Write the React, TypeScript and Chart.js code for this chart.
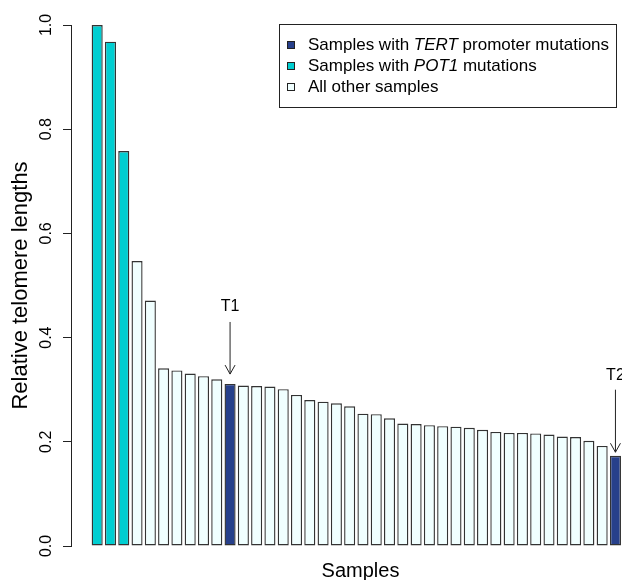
import React, { useEffect, useRef } from 'react';
import { Chart, registerables } from 'chart.js';

Chart.register(...registerables);

// ---- data ----
const values: number[] = [
  1.0, 0.968, 0.758, 0.547, 0.471, 0.341, 0.337, 0.331, 0.326, 0.32,
  0.311, 0.308, 0.307, 0.306, 0.301, 0.29, 0.28, 0.277, 0.274, 0.268,
  0.254, 0.253, 0.245, 0.235, 0.234, 0.232, 0.23, 0.229, 0.227, 0.223,
  0.219, 0.217, 0.217, 0.216, 0.214, 0.21, 0.209, 0.202, 0.192, 0.173,
];
const tertSamples: number[] = [10, 39];
const pot1Samples: number[] = [0, 1, 2];

const annotLabels: string[] = ['T1', 'T2'];
const annotSamples: number[] = [10, 39];
const annotArrowFrom: number[] = [0.43, 0.3];
const annotArrowTo: number[] = [0.33, 0.18];
const annotTextAt: number[] = [0.46, 0.328];

const yTicks: number[] = [0, 0.2, 0.4, 0.6, 0.8, 1.0];

const legendItems = [
  { parts: [['Samples with ', false], ['TERT', true], [' promoter mutations', false]], color: '#27408B' },
  { parts: [['Samples with ', false], ['POT1', true], [' mutations', false]], color: '#00CED1' },
  { parts: [['All other samples', false]], color: '#F0FFFF' },
];

const COLOR_TERT = '#27408B';
const COLOR_POT1 = '#00CED1';
const COLOR_OTHER = '#F0FFFF';
const FONT = "'Liberation Sans', Arial, Helvetica, sans-serif";

const barColors = values.map((_, i) =>
  tertSamples.includes(i) ? COLOR_TERT : pot1Samples.includes(i) ? COLOR_POT1 : COLOR_OTHER
);

const overlayPlugin = {
  id: 'overlay',
  afterDraw(chart: any) {
    const ctx = chart.ctx as CanvasRenderingContext2D;
    const yScale = chart.scales.y;
    const meta = chart.getDatasetMeta(0);
    ctx.save();
    // annotations T1 / T2
    annotSamples.forEach((idx, k) => {
      const el = meta.data[idx];
      const x = el.x;
      const y0 = yScale.getPixelForValue(annotArrowFrom[k]);
      const y1 = yScale.getPixelForValue(annotArrowTo[k]);
      const yt = yScale.getPixelForValue(annotTextAt[k]);
      ctx.strokeStyle = '#222';
      ctx.lineWidth = 1;
      ctx.beginPath();
      ctx.moveTo(x, y0);
      ctx.lineTo(x, y1);
      ctx.moveTo(x - 5, y1 - 9);
      ctx.lineTo(x, y1);
      ctx.lineTo(x + 5, y1 - 9);
      ctx.stroke();
      ctx.fillStyle = '#000';
      ctx.font = `16px ${FONT}`;
      ctx.textAlign = 'center';
      ctx.textBaseline = 'middle';
      ctx.fillText(annotLabels[k], x, yt);
    });
    // legend
    const bx = 279.5, by = 24.5, bw = 337, bh = 83;
    ctx.strokeStyle = '#222';
    ctx.lineWidth = 1;
    ctx.strokeRect(bx, by, bw, bh);
    legendItems.forEach((item, r) => {
      const cy = 45 + r * 21;
      ctx.fillStyle = item.color;
      ctx.fillRect(287, cy - 4, 8, 8);
      ctx.strokeStyle = '#222';
      ctx.strokeRect(287.5, cy - 3.5, 7, 7);
      let tx = 308;
      ctx.fillStyle = '#000';
      ctx.textAlign = 'left';
      ctx.textBaseline = 'middle';
      item.parts.forEach(([txt, it]) => {
        ctx.font = `${it ? 'italic ' : ''}17px ${FONT}`;
        ctx.fillText(txt as string, tx, cy);
        tx += ctx.measureText(txt as string).width;
      });
    });
    ctx.restore();
  },
};

export default function App() {
  const ref = useRef<HTMLCanvasElement>(null);
  useEffect(() => {
    if (!ref.current) return;
    const chart = new Chart(ref.current, {
      type: 'bar',
      data: {
        datasets: [
          {
            data: values.map((v, i) => ({ x: i, y: v })),
            backgroundColor: barColors,
            borderColor: '#333',
            borderWidth: 1.4,
            borderSkipped: false,
            categoryPercentage: 1,
            barPercentage: 0.833,
          } as any,
        ],
      },
      options: {
        animation: false,
        responsive: false,
        layout: { padding: { top: 25, right: 2, left: 0, bottom: 0 } },
        plugins: { legend: { display: false }, tooltip: { enabled: false } },
        scales: {
          x: {
            type: 'linear',
            offset: false,
            min: -1.97,
            max: 41.6,
            ticks: { display: false },
            grid: { display: false, offset: false },
            border: { display: false },
            title: {
              display: true,
              text: 'Samples',
              color: '#000',
              font: { family: FONT, size: 20, lineHeight: 1 },
              padding: { top: 0, bottom: -1 },
            },
            afterFit: (s: any) => {
              s.height = 34;
            },
          },
          y: {
            min: 0,
            max: 1,
            afterBuildTicks: (s: any) => {
              s.ticks = yTicks.map((v) => ({ value: v }));
            },
            ticks: {
              callback: (v: any) => Number(v).toFixed(1),
              minRotation: 90,
              maxRotation: 90,
              crossAlign: 'center',
              padding: 5,
              color: '#000',
              font: { family: FONT, size: 16 },
            },
            grid: { drawOnChartArea: false, tickLength: 8, color: '#222' },
            border: { display: true, color: '#222' },
            title: {
              display: true,
              text: 'Relative telomere lengths',
              color: '#000',
              font: { family: FONT, size: 22 },
              padding: { top: 8, bottom: 0 },
            },
            afterFit: (s: any) => {
              s.width = 71;
            },
          },
        },
      } as any,
      plugins: [overlayPlugin],
    });
    return () => chart.destroy();
  }, []);
  return (
    <div
      style={{
        position: 'fixed',
        left: 0,
        top: 0,
        width: 622,
        height: 580,
        overflow: 'hidden',
        background: '#fff',
      }}
    >
      <canvas ref={ref} width={652} height={580} style={{ display: 'block' }} />
    </div>
  );
}
